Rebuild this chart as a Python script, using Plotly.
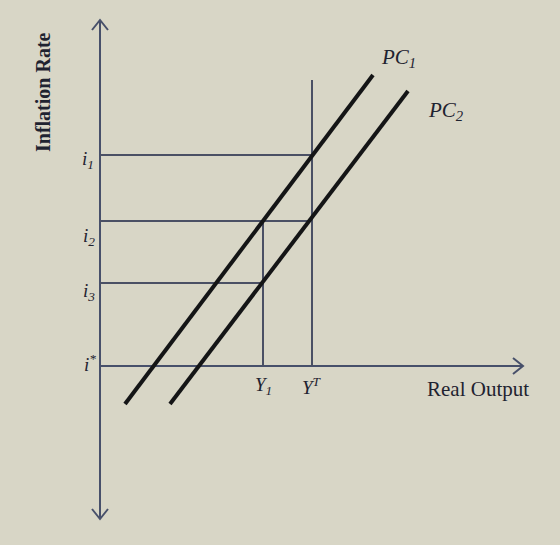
import plotly.graph_objects as go

# ---- data (arbitrary diagram units) ----
output_levels = {"Y1": 16.3, "YT": 21.2}
inflation_levels = {"i1": 21.1, "i2": 14.5, "i3": 8.3, "istar": 0.0}
pc1_x = [2.5, 27.3]
pc1_y = [-3.8, 29.1]
pc2_x = [7.0, 30.8]
pc2_y = [-3.8, 27.5]
axis_top = 34.6
axis_bottom = -15.3
axis_right = 42.3
yt_top = 28.6

BG = "#d8d6c6"
AX = "#47506a"
GUIDE = "#4a5064"
CURVE = "#141516"
TXT = "#1f2330"
SERIF = "Liberation Serif, Times New Roman, serif"

fig = go.Figure()

def seg(xs, ys, color, width):
    fig.add_trace(go.Scatter(x=xs, y=ys, mode="lines",
                             line=dict(color=color, width=width),
                             hoverinfo="skip", showlegend=False))

Y1 = output_levels["Y1"]
YT = output_levels["YT"]
i1 = inflation_levels["i1"]
i2 = inflation_levels["i2"]
i3 = inflation_levels["i3"]
istar = inflation_levels["istar"]

# axes
seg([0, 0], [axis_bottom, axis_top], AX, 2)
seg([0, axis_right], [istar, istar], AX, 2)
# arrowheads (open chevrons)
seg([-0.8, 0, 0.8], [axis_top - 1.0, axis_top, axis_top - 1.0], AX, 2)
seg([-0.8, 0, 0.8], [axis_bottom + 1.0, axis_bottom, axis_bottom + 1.0], AX, 2)
seg([axis_right - 1.0, axis_right, axis_right - 1.0], [0.8, 0, -0.8], AX, 2)

# guide lines
seg([0, YT], [i1, i1], GUIDE, 2)
seg([0, YT], [i2, i2], GUIDE, 2)
seg([0, Y1], [i3, i3], GUIDE, 2)
seg([YT, YT], [istar, yt_top], GUIDE, 2)
seg([Y1, Y1], [istar, i2], GUIDE, 2)

# Phillips curves
seg(pc1_x, pc1_y, CURVE, 4)
seg(pc2_x, pc2_y, CURVE, 4)

def label(x, y, text, size=17, angle=0, color=TXT):
    fig.add_annotation(x=x, y=y, text=text, showarrow=False,
                       textangle=angle,
                       font=dict(family=SERIF, size=size, color=color))

label(29.8, 30.8, "<i>PC<sub>1</sub></i>", 21)
label(34.6, 25.5, "<i>PC<sub>2</sub></i>", 21)
label(37.8, -2.3, "Real Output", 21)
label(Y1, -2.0, "<i>Y<sub>1</sub></i>", 19)
label(YT, -2.0, "<i>Y<sup>T</sup></i>", 19)
label(-1.2, 20.6, "<i>i<sub>1</sub></i>", 19)
label(-1.1, 12.9, "<i>i<sub>2</sub></i>", 19)
label(-1.1, 7.4, "<i>i<sub>3</sub></i>", 19)
label(-1.0, 0.3, "<i>i<sup>*</sup></i>", 19)
label(-5.7, 27.4, "<b>Inflation Rate</b>", 20, angle=-90)

fig.update_layout(
    width=560, height=545,
    margin=dict(l=0, r=0, t=0, b=0),
    paper_bgcolor=BG, plot_bgcolor=BG,
    xaxis=dict(range=[-10, 46], visible=False, fixedrange=True),
    yaxis=dict(range=[-17.9, 36.6], visible=False, fixedrange=True),
    showlegend=False,
)

fig.write_html("out.html")
